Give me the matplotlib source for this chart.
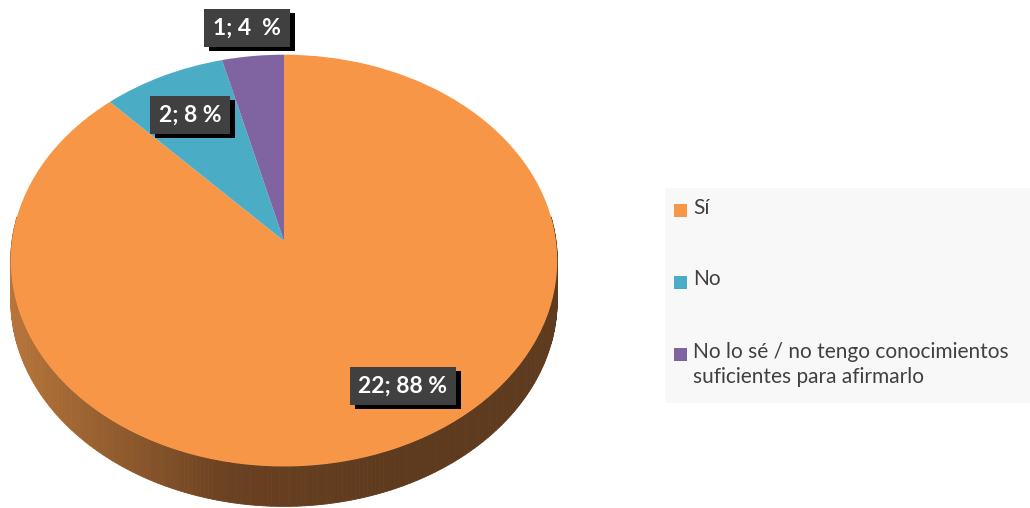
import numpy as np
import matplotlib
matplotlib.use('Agg')
import matplotlib.pyplot as plt
from matplotlib.patches import Rectangle, Polygon
from matplotlib.transforms import Affine2D, Transform
from matplotlib.colors import to_rgb

# Survey answers
categories = ['Sí', 'No', 'No lo sé / no tengo conocimientos\nsuficientes para afirmarlo']
counts = [22, 2, 1]
colors = ['#F79646', '#4BACC6', '#8064A2']
label_fmt = ['{n}; {p} %', '{n}; {p} %', '{n}; {p}  %']
label_pos = [(403, 386), (190, 115), (247, 28)]

plt.rcParams['font.family'] = ['Lato', 'DejaVu Sans']


class Tilt(Transform):
    """Perspective squash of the unit disc: the far half shrinks."""
    input_dims = output_dims = 2
    is_separable = False
    has_inverse = False

    def __init__(self, k):
        super().__init__()
        self.k = k

    def transform_non_affine(self, values):
        v = np.asarray(values, dtype=float)
        w = 1 + self.k * v[:, 1]
        return np.column_stack([v[:, 0] / w, v[:, 1] / w])


fig = plt.figure(figsize=(10.3, 5.08), dpi=100)
ax = fig.add_axes([0, 0, 1, 1])

# pie geometry in pixels: apex position, horizontal/vertical scale, wall height
k = 0.095
px, py, sx, sy = 284, 241, 272, 204
depth = 40
tilt = Tilt(k)
place = Affine2D().scale(sx, -sy).translate(px, py)

wedges, _ = ax.pie(counts, colors=colors, startangle=90, counterclock=False,
                   radius=1, center=(0, 0), frame=True,
                   wedgeprops=dict(linewidth=0))
face_tf = tilt + place + ax.transData
for w in wedges:
    w.set_transform(face_tf)
    w.set_zorder(3)

ax.set_xlim(0, 1030)
ax.set_ylim(508, 0)
ax.set_aspect('auto')
ax.axis('off')

# side wall of the disc, shaded light on the left to dark brown on the right
c_left = np.array(to_rgb('#b7753a'))
c_mid = np.array(to_rgb('#6a4121'))
c_dark = np.array(to_rgb('#5e3a1e'))
th = np.linspace(np.pi - 0.12, 2 * np.pi + 0.12, 241)
rim = place.transform(tilt.transform(np.column_stack([np.cos(th), np.sin(th)])))
xmin, xmax = rim[:, 0].min(), rim[:, 0].max()
for p0, p1 in zip(rim[:-1], rim[1:]):
    pts = [p0, p1, (p1[0], p1[1] + depth), (p0[0], p0[1] + depth)]
    f = ((p0[0] + p1[0]) / 2 - xmin) / (xmax - xmin)
    if f < 0.4:
        col = c_left + (c_mid - c_left) * (f / 0.4)
    else:
        col = c_mid + (c_dark - c_mid) * min(1, (f - 0.4) / 0.3)
    ax.add_patch(Polygon(pts, closed=True, facecolor=col, edgecolor=col, lw=0.6, zorder=1))

# data labels on dark boxes
total = sum(counts)
labels = []
for n, fmt, (x, y) in zip(counts, label_fmt, label_pos):
    s = fmt.format(n=n, p=round(100 * n / total))
    labels.append(ax.text(x, y, s, color='white', fontsize=16.5, fontweight='bold',
                          ha='center', va='center', zorder=5,
                          bbox=dict(boxstyle='square,pad=0.38', facecolor='#404040',
                                    edgecolor='none')))

# drop shadow behind each label box
fig.canvas.draw()
inv = ax.transData.inverted()
for t in labels:
    bb = t.get_bbox_patch().get_window_extent()
    (x0, y0), (x1, y1) = inv.transform([[bb.x0, bb.y0], [bb.x1, bb.y1]])
    ax.add_patch(Rectangle((min(x0, x1) + 5, min(y0, y1) + 4), abs(x1 - x0), abs(y1 - y0),
                           facecolor='black', edgecolor='none', zorder=4))

# legend box
ax.add_patch(Rectangle((665, 188), 370, 215, facecolor='#f8f8f8', edgecolor='none', zorder=1))
legend_y = [210.5, 282, 354.5]
for cat, col, y in zip(categories, colors, legend_y):
    ax.add_patch(Rectangle((674, y - 6.5), 13, 13, facecolor=col, edgecolor='none', zorder=2))
    ax.text(693, y - 13, cat, color='#404040', fontsize=15, ha='left', va='top',
            linespacing=1.35, zorder=2)

fig.savefig('out.png', dpi=100)
